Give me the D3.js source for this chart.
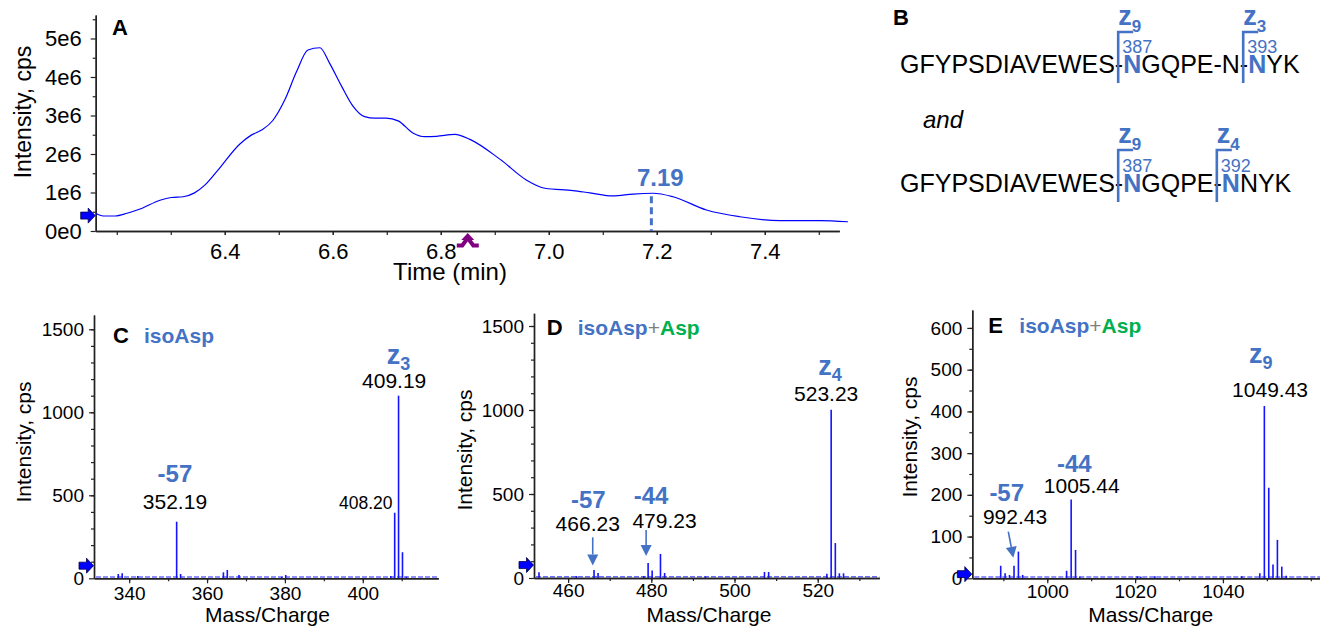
<!DOCTYPE html>
<html>
<head>
<meta charset="utf-8">
<script src="https://cdn.jsdelivr.net/npm/d3@7"></script>
<style>
body { margin: 0; background: #fff; }
svg text { font-family: Arial, "Liberation Sans", sans-serif; }
</style>
</head>
<body>
<svg id="fig" width="1320" height="626"></svg>
<script>
// ---- panel A : extracted ion chromatogram
var xicTime = [6.161, 6.175, 6.197, 6.219, 6.243, 6.280, 6.301, 6.323, 6.344, 6.363,
    6.385, 6.428, 6.449, 6.468, 6.489, 6.511, 6.533, 6.554, 6.576, 6.594,
    6.616, 6.637, 6.659, 6.678, 6.699, 6.721, 6.749, 6.770, 6.792, 6.826,
    6.854, 6.910, 6.959, 6.993, 7.045, 7.076, 7.119, 7.156, 7.193, 7.230,
    7.292, 7.354, 7.428, 7.502, 7.554];
var xicIntensity = [0.46, 0.39, 0.39, 0.46, 0.57, 0.80, 0.87, 0.89, 0.99, 1.19,
    1.54, 2.26, 2.49, 2.62, 2.87, 3.40, 4.14, 4.70, 4.76, 4.36,
    3.77, 3.25, 2.97, 2.93, 2.93, 2.86, 2.54, 2.45, 2.46, 2.51,
    2.38, 1.86, 1.32, 1.11, 1.05, 0.99, 0.91, 0.96, 0.98, 0.89,
    0.545, 0.37, 0.27, 0.27, 0.24]; // x 1e6 cps
var xicApex = [7.19, 0.98];      // time, intensity (1e6)
var xicMarkTime = 6.85;          // purple marker on time axis
var xicThreshold = 0.40;         // 1e6
var xTicksA = [6.4, 6.6, 6.8, 7.0, 7.2, 7.4];
var xMinorA = [6.2, 6.3, 6.4, 6.5, 6.6, 6.7, 6.8, 6.9, 7.0, 7.1, 7.2, 7.3, 7.4, 7.5];
var yTicksA = [0, 1, 2, 3, 4, 5];
var yMinorA = [0.5, 1.5, 2.5, 3.5, 4.5, 5.5];

// ---- panel B : sequences
var seqLines = ["GFYPSDIAVEWES-NGQPE-N-NYK", "GFYPSDIAVEWES-NGQPE-NNYK"];
var seqSites = [[14, 22], [14, 20]];
var seqIons = [["9", "3"], ["9", "4"]];
var seqResidues = [["387", "393"], ["387", "392"]];

// ---- panel C : z3 region
var mzC = [337.2, 338.2, 342.2, 352.19, 353.2, 364.2, 365.2, 368.2, 379.2, 380.2, 407.2, 408.20, 409.19, 410.2, 411.2];
var intC = [26, 30, 14, 341, 26, 36, 50, 20, 10, 20, 14, 395, 1100, 157, 10];
var thresholdC = 76;

// ---- panel D : z4 region
var mzD = [453.0, 462.0, 466.23, 467.2, 478.2, 479.23, 480.2, 482.2, 483.2, 493.0, 507.2, 508.2, 522.2, 523.23, 524.23, 525.2, 526.2];
var intD = [34, 12, 48, 30, 12, 89, 44, 143, 30, 9, 36, 36, 26, 1002, 208, 28, 28];
var thresholdD = 77;

// ---- panel E : z9 region
var mzE = [989.4, 990.4, 991.4, 992.43, 993.43, 994.4, 1004.4, 1005.44, 1006.44, 1007.4, 1020.5, 1021.3, 1024.5, 1044.3, 1048.4, 1049.43, 1050.43, 1051.4, 1052.4, 1053.4, 1054.4];
var intE = [30, 12, 8, 30, 64, 8, 18, 189, 68, 4, 5, 4, 5, 5, 12, 413, 217, 33, 92, 28, 6];
var thresholdE = 10;

var FONT = "Arial, 'Liberation Sans', sans-serif";
var LABEL_BLUE = "#4472c4";
var GREEN = "#00b050";
var TRACE = "#1414ff";

var svg = d3.select("#fig");

function styleAxis(g, size) {
    g.attr("font-family", FONT).attr("font-size", size);
    g.selectAll("path.domain").attr("stroke", "#222").attr("stroke-width", 1.4);
    g.selectAll(".tick line").attr("stroke", "#222").attr("stroke-width", 1.2);
    g.selectAll(".tick text").attr("fill", "#000");
}

function thresholdArrow(g, x, y) {
    g.append("path")
        .attr("transform", "translate(" + x + "," + y + ")")
        .attr("d", "M-15,-3.5H-7.5V-7.5L-0.5,0L-7.5,7.5V3.5H-15Z")
        .attr("fill", "#0000ff")
        .attr("stroke", "#00004d")
        .attr("stroke-width", 0.8);
}

function pointer(g, x1, y1, x2, y2) {
    var a = Math.atan2(y2 - y1, x2 - x1);
    var bx = x2 - 11 * Math.cos(a), by = y2 - 11 * Math.sin(a);
    var px = -Math.sin(a) * 5.5, py = Math.cos(a) * 5.5;
    g.append("line")
        .attr("x1", x1).attr("y1", y1).attr("x2", bx).attr("y2", by)
        .attr("stroke", LABEL_BLUE).attr("stroke-width", 1.6);
    g.append("path")
        .attr("d", "M" + x2 + "," + y2 + "L" + (bx + px) + "," + (by + py) + "L" + (bx - px) + "," + (by - py) + "Z")
        .attr("fill", LABEL_BLUE);
}

// ================= panel A =================
var xA = d3.scaleLinear().domain([6.161, 7.538]).range([95.7, 839.3]);
var yA = d3.scaleLinear().domain([0, 5.61]).range([231, 15]);
var gA = svg.append("g");

gA.append("g")
    .attr("transform", "translate(0," + yA(0) + ")")
    .call(d3.axisBottom(xA).tickValues(xMinorA).tickFormat("").tickSize(4).tickSizeOuter(0))
    .call(styleAxis, 22);
gA.append("g")
    .attr("transform", "translate(0," + yA(0) + ")")
    .call(d3.axisBottom(xA).tickValues(xTicksA).tickFormat(d3.format(".1f")).tickSize(4).tickPadding(8.5).tickSizeOuter(0))
    .call(styleAxis, 22);
gA.append("g")
    .attr("transform", "translate(" + xA.range()[0] + ",0)")
    .call(d3.axisLeft(yA).tickValues(yMinorA).tickFormat("").tickSize(3).tickSizeOuter(0))
    .call(styleAxis, 22);
gA.append("g")
    .attr("transform", "translate(" + xA.range()[0] + ",0)")
    .call(d3.axisLeft(yA).tickValues(yTicksA).tickFormat(function(d) { return d === 0 ? "0e0" : d + "e6"; })
        .tickSize(5).tickPadding(9).tickSizeOuter(0))
    .call(styleAxis, 22);

var xic = xicTime.map(function(t, i) { return [t, xicIntensity[i]]; });
gA.append("path")
    .datum(xic)
    .attr("fill", "none")
    .attr("stroke", "#0000ff")
    .attr("stroke-width", 1.2)
    .attr("d", d3.line().curve(d3.curveMonotoneX)
        .x(function(d) { return xA(d[0]); })
        .y(function(d) { return yA(d[1]); }));

// apex marker
gA.append("line")
    .attr("x1", xA(xicApex[0])).attr("x2", xA(xicApex[0]))
    .attr("y1", yA(xicApex[1]) + 3).attr("y2", yA(0))
    .attr("stroke", LABEL_BLUE).attr("stroke-width", 3).attr("stroke-dasharray", "7,4");
gA.append("text")
    .attr("x", xA(xicApex[0]) + 9).attr("y", yA(xicApex[1]) - 7)
    .attr("text-anchor", "middle").attr("font-size", 24).attr("font-weight", "bold")
    .attr("fill", LABEL_BLUE).text(xicApex[0].toFixed(2));

// purple marker under the time axis
gA.append("path")
    .attr("transform", "translate(" + xA(xicMarkTime) + "," + (yA(0) + 2) + ")")
    .attr("d", "M-11,12.5H-5.5L0,5L5.5,12.5H11")
    .attr("fill", "none").attr("stroke", "#800080").attr("stroke-width", 4)
    .attr("stroke-linejoin", "miter");
gA.append("path")
    .attr("transform", "translate(" + xA(xicMarkTime) + "," + (yA(0) + 2) + ")")
    .attr("d", "M-6.5,7L0,0L6.5,7Z")
    .attr("fill", "#800080");

thresholdArrow(gA, xA.range()[0], yA(xicThreshold));

gA.append("text").attr("x", 112).attr("y", 35).attr("font-size", 22).attr("font-weight", "bold").text("A");
gA.append("text").attr("x", 450).attr("y", 280).attr("text-anchor", "middle").attr("font-size", 24).text("Time (min)");
gA.append("text").attr("transform", "translate(31,112) rotate(-90)")
    .attr("text-anchor", "middle").attr("font-size", 23).text("Intensity, cps");

// ================= panel B =================
var gB = svg.append("g");
var rowY = [73, 192];
gB.append("text").attr("x", 893).attr("y", 25).attr("font-size", 22).attr("font-weight", "bold").text("B");
gB.append("text").attr("x", 923).attr("y", 128).attr("font-size", 24).attr("font-style", "italic").text("and");

seqLines.forEach(function(seq, r) {
    var base = rowY[r];
    var t = gB.append("text").attr("x", 900).attr("y", base).attr("font-size", 25).attr("fill", "#000");
    var start = 0;
    seqSites[r].forEach(function(s) {
        t.append("tspan").text(seq.slice(start, s));
        t.append("tspan").attr("fill", LABEL_BLUE).attr("font-weight", "bold").text(seq[s]);
        start = s + 1;
    });
    t.append("tspan").text(seq.slice(start));

    seqSites[r].forEach(function(s, k) {
        var bx = t.node().getStartPositionOfChar(s).x - 5;
        var top = base - 41 - r;
        gB.append("path")
            .attr("d", "M" + bx + "," + (base + 10) + "V" + top + "H" + (bx + 15))
            .attr("fill", "none").attr("stroke", LABEL_BLUE).attr("stroke-width", 2.6);
        var lab = gB.append("text").attr("x", bx).attr("y", top - 7)
            .attr("fill", LABEL_BLUE).attr("font-weight", "bold");
        lab.append("tspan").attr("font-size", 27).text("z");
        lab.append("tspan").attr("font-size", 17).attr("dy", 7).text(seqIons[r][k]);
        gB.append("text").attr("x", bx + 4).attr("y", base - 20)
            .attr("font-size", 18).attr("fill", LABEL_BLUE).text(seqResidues[r][k]);
    });
});

// ================= spectra C, D, E =================
var spectra = [
    { letter: "C", mz: mzC, inten: intC, thr: thresholdC,
      xDomain: [330.96, 419.4], left: 94, right: 438.3, yMax: 1586, top: 315, bottom: 578.3,
      xTicks: [340, 360, 380, 400], xMinor: d3.range(340, 420, 10),
      yTicks: [0, 500, 1000, 1500], yMinor: d3.range(100, 1600, 100),
      xPad: 3.2, letterPos: [113, 343], yTitle: [31, 442], xTitle: 267.5, asp: false,
      texts: [
        { mz: 352.19, t: "-57", kind: "shift", dx: -1.7, dy: -40 },
        { mz: 352.19, t: "352.19", kind: "mass", dx: -1.7, dy: -12.4 },
        { mz: 409.19, t: "409.19", kind: "mass", dx: -4.4, dy: -7.4 },
        { mz: 409.19, t: "3", kind: "ion", dx: -11.7, dy: -31.5 },
        { mz: 408.20, t: "408.20", kind: "small", dx: -2.2, dy: -3.7 }
      ],
      arrows: [] },
    { letter: "D", mz: mzD, inten: intD, thr: thresholdD,
      xDomain: [451.8, 534.8], left: 534, right: 879.3, yMax: 1575.6, top: 313.3, bottom: 578,
      xTicks: [460, 480, 500, 520], xMinor: d3.range(460, 540, 10),
      yTicks: [0, 500, 1000, 1500], yMinor: d3.range(100, 1600, 100),
      xPad: 0.5, letterPos: [546.7, 335], yTitle: [472, 450], xTitle: 709, asp: true,
      texts: [
        { mz: 466.23, t: "-57", kind: "shift", dx: -5.7, dy: -61.6 },
        { mz: 466.23, t: "466.23", kind: "mass", dx: -6.3, dy: -39 },
        { mz: 479.23, t: "-44", kind: "shift", dx: 3, dy: -59 },
        { mz: 479.23, t: "479.23", kind: "mass", dx: 16.4, dy: -35.3 },
        { mz: 523.23, t: "523.23", kind: "mass", dx: -5, dy: -9 },
        { mz: 523.23, t: "4", kind: "ion", dx: -13, dy: -34.7 }
      ],
      arrows: [
        { mz: 466.23, x1: -1.3, y1: -32.6, x2: -1.3, y2: -4.5 },
        { mz: 479.23, x1: -2, y1: -33, x2: -2, y2: -7 }
      ] },
    { letter: "E", mz: mzE, inten: intE, thr: thresholdE,
      xDomain: [982.93, 1062.1], left: 972.3, right: 1320, yMax: 643, top: 310, bottom: 578.3,
      xTicks: [1000, 1020, 1040], xMinor: d3.range(990, 1070, 10),
      yTicks: [0, 100, 200, 300, 400, 500, 600], yMinor: d3.range(50, 650, 50),
      xPad: 1.2, letterPos: [988.3, 333.3], yTitle: [917, 437], xTitle: 1150.8, asp: true,
      texts: [
        { mz: 992.43, t: "-57", kind: "shift", dx: -7.3, dy: -64.8 },
        { mz: 992.43, t: "992.43", kind: "mass", dx: 1, dy: -41.8 },
        { mz: 1005.44, t: "-44", kind: "shift", dx: 3.2, dy: -27.8 },
        { mz: 1005.44, t: "1005.44", kind: "mass", dx: 10.6, dy: -6.2 },
        { mz: 1049.43, t: "1049.43", kind: "mass", dx: 5.7, dy: -8.8 },
        { mz: 1049.43, t: "9", kind: "ion", dx: -15.3, dy: -42.8 }
      ],
      arrows: [
        { mz: 992.43, x1: -5.7, y1: -34.1, x2: -0.7, y2: -8 }
      ] }
];

spectra.forEach(function(p) {
    var x = d3.scaleLinear().domain(p.xDomain).range([p.left, p.right]);
    var y = d3.scaleLinear().domain([0, p.yMax]).range([p.bottom, p.top]);
    var g = svg.append("g");

    // baseline noise
    g.append("line")
        .attr("x1", x(p.xDomain[0]) + 2).attr("x2", x(p.xDomain[1]))
        .attr("y1", y(0) - 1.3).attr("y2", y(0) - 1.3)
        .attr("stroke", "#6b6bff").attr("stroke-width", 1.6).attr("stroke-dasharray", "5,2");

    // stick spectrum
    g.selectAll("line.peak")
        .data(p.mz)
        .enter()
        .append("line")
        .attr("class", "peak")
        .attr("x1", function(d) { return x(d); })
        .attr("x2", function(d) { return x(d); })
        .attr("y1", y(0))
        .attr("y2", function(d, i) { return y(p.inten[i]); })
        .attr("stroke", TRACE)
        .attr("stroke-width", 1.6);

    // axes
    g.append("g").attr("transform", "translate(0," + y(0) + ")")
        .call(d3.axisBottom(x).tickValues(p.xMinor).tickFormat("").tickSize(3).tickSizeOuter(0))
        .call(styleAxis, 19);
    g.append("g").attr("transform", "translate(0," + y(0) + ")")
        .call(d3.axisBottom(x).tickValues(p.xTicks).tickFormat(d3.format("d")).tickSize(5).tickPadding(p.xPad).tickSizeOuter(0))
        .call(styleAxis, 19);
    g.append("g").attr("transform", "translate(" + p.left + ",0)")
        .call(d3.axisLeft(y).tickValues(p.yMinor).tickFormat("").tickSize(3).tickSizeOuter(0))
        .call(styleAxis, 19);
    g.append("g").attr("transform", "translate(" + p.left + ",0)")
        .call(d3.axisLeft(y).tickValues(p.yTicks).tickFormat(d3.format("d")).tickSize(5).tickPadding(5).tickSizeOuter(0))
        .call(styleAxis, 19);

    thresholdArrow(g, p.left, y(p.thr));

    // titles
    g.append("text").attr("x", p.xTitle).attr("y", 622).attr("text-anchor", "middle")
        .attr("font-size", 21).text("Mass/Charge");
    g.append("text").attr("transform", "translate(" + p.yTitle[0] + "," + p.yTitle[1] + ") rotate(-90)")
        .attr("text-anchor", "middle").attr("font-size", 21).text("Intensity, cps");
    g.append("text").attr("x", p.letterPos[0]).attr("y", p.letterPos[1])
        .attr("font-size", 22).attr("font-weight", "bold").text(p.letter);
    var tt = g.append("text").attr("x", p.letterPos[0] + 31).attr("y", p.letterPos[1])
        .attr("font-size", 21).attr("font-weight", "bold");
    tt.append("tspan").attr("fill", LABEL_BLUE).text("isoAsp");
    if (p.asp) {
        tt.append("tspan").attr("fill", "#7f7f7f").attr("font-weight", "normal").text("+");
        tt.append("tspan").attr("fill", GREEN).text("Asp");
    }

    // peak annotations
    function heightAt(mz) { return p.inten[p.mz.indexOf(mz)]; }
    p.texts.forEach(function(a) {
        var px = x(a.mz) + a.dx, py = y(heightAt(a.mz)) + a.dy;
        if (a.kind === "ion") {
            var it = g.append("text").attr("x", px).attr("y", py)
                .attr("fill", LABEL_BLUE).attr("font-weight", "bold");
            it.append("tspan").attr("font-size", 27).text("z");
            it.append("tspan").attr("font-size", 18).attr("dy", 6).text(a.t);
        } else if (a.kind === "shift") {
            g.append("text").attr("x", px).attr("y", py).attr("text-anchor", "middle")
                .attr("font-size", 24).attr("font-weight", "bold").attr("fill", LABEL_BLUE).text(a.t);
        } else if (a.kind === "small") {
            g.append("text").attr("x", px).attr("y", py).attr("text-anchor", "end")
                .attr("font-size", 17.5).text(a.t);
        } else {
            g.append("text").attr("x", px).attr("y", py).attr("text-anchor", "middle")
                .attr("font-size", 21).text(a.t);
        }
    });
    p.arrows.forEach(function(a) {
        var bx = x(a.mz), by = y(heightAt(a.mz));
        pointer(g, bx + a.x1, by + a.y1, bx + a.x2, by + a.y2);
    });
});
</script>
</body>
</html>
